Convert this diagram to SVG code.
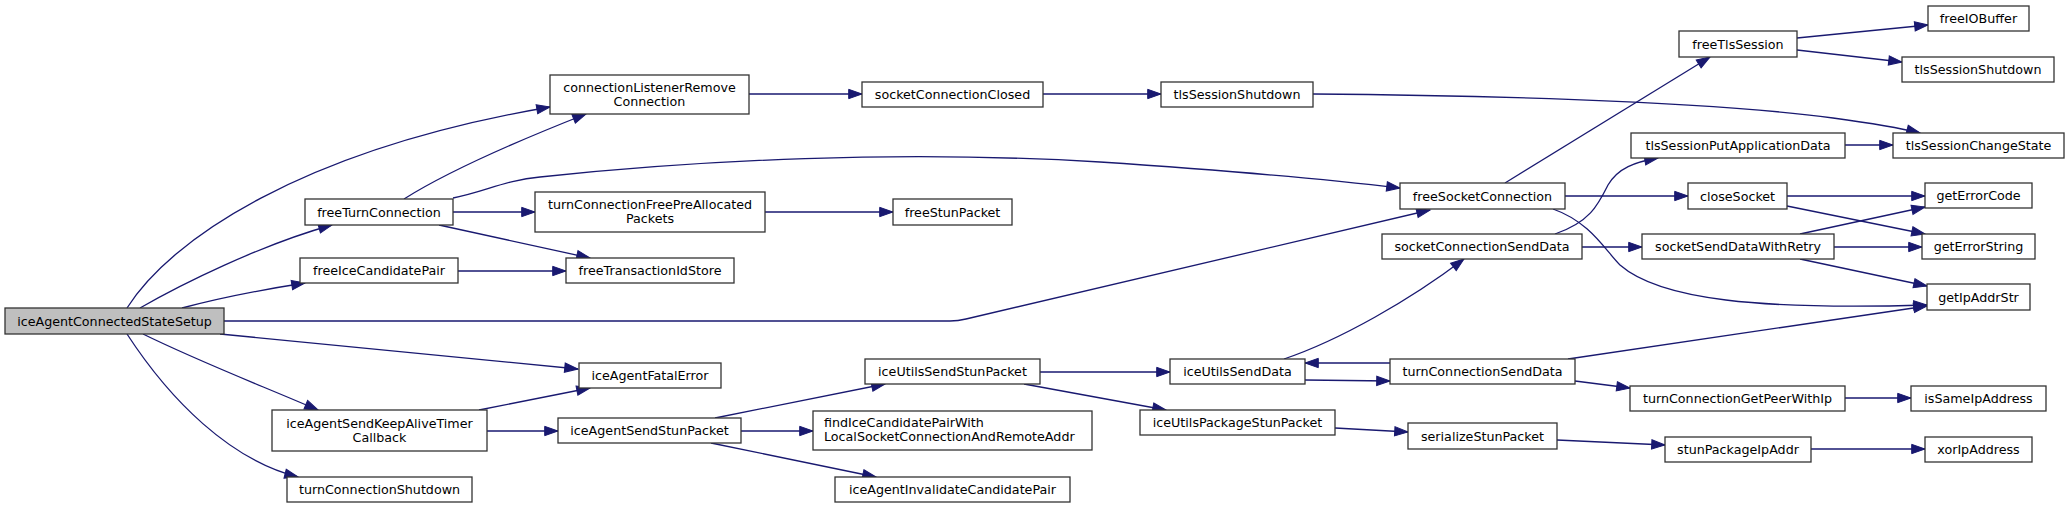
<svg xmlns="http://www.w3.org/2000/svg" width="2069" height="508" viewBox="0 0 2069 508">
<style>
.n rect{fill:#fff;stroke:#333;stroke-width:1.3}
.n.root rect{fill:#bfbfbf}
.n text{font-family:"DejaVu Sans",sans-serif;font-size:12.7px;fill:#000;text-anchor:middle}
.n text.l{text-anchor:start}
#edges path{fill:none;stroke:#191970;stroke-width:1.3;marker-end:url(#arr)}
</style>
<defs>
<marker id="arr" markerUnits="userSpaceOnUse" markerWidth="14" markerHeight="10" refX="13.3" refY="4.65" orient="auto" overflow="visible">
<path d="M0,0 L13.3,4.65 L0,9.3 z" fill="#191970" stroke="#191970" stroke-width="1"/>
</marker>
</defs>
<rect width="2069" height="508" fill="#fff"/>
<g id="edges">
<path d="M127,308 C170,240 300,150 550,107"/>
<path d="M140,308 C180,285 260,245 332,225"/>
<path d="M182,308 C220,298 260,290 305,283"/>
<path d="M224,321 L950,321 Q958,321 966,319 L1430,210"/>
<path d="M220,334 L578,369"/>
<path d="M143,334 C200,362 260,385 318,410"/>
<path d="M127,334 C170,400 230,460 298,477"/>
<path d="M404,199 C450,170 520,140 586,114"/>
<path d="M453,198 C485,192 505,180 540,177 C700,160 900,150 1100,162 C1250,172 1350,182 1400,188"/>
<path d="M453,212 L535,212"/>
<path d="M439,225 L590,258"/>
<path d="M458,271 L566,271"/>
<path d="M749,94 L862,94"/>
<path d="M1043,94 L1161,94"/>
<path d="M1313,94 C1450,95 1700,100 1833,118 C1870,123 1900,128 1920,133"/>
<path d="M765,212 L893,212"/>
<path d="M1505,183 L1710,57"/>
<path d="M1565,196 L1688,196"/>
<path d="M1553,209 C1590,222 1605,250 1620,265 C1660,300 1760,310 1927,305"/>
<path d="M1797,38 L1928,25"/>
<path d="M1797,50 L1902,62"/>
<path d="M1845,145 L1893,145"/>
<path d="M1555,234 C1590,222 1598,205 1608,185 C1618,168 1635,162 1658,158"/>
<path d="M1582,247 L1642,247"/>
<path d="M1787,196 L1925,196"/>
<path d="M1787,206 L1925,234"/>
<path d="M1800,234 L1925,207"/>
<path d="M1834,247 L1922,247"/>
<path d="M1800,259 L1927,286"/>
<path d="M479,410 L590,388"/>
<path d="M487,431 L558,431"/>
<path d="M715,418 L885,384"/>
<path d="M741,431 L813,431"/>
<path d="M711,443 L876,477"/>
<path d="M1040,372 L1170,372"/>
<path d="M1024,384 L1166,410"/>
<path d="M1284,359 C1340,340 1410,300 1464,259"/>
<path d="M1305,380 L1390,381"/>
<path d="M1390,363 L1305,363"/>
<path d="M1568,359 L1927,306"/>
<path d="M1575,381 L1630,388"/>
<path d="M1845,398 L1911,398"/>
<path d="M1335,428 L1408,432"/>
<path d="M1557,440 L1665,445"/>
<path d="M1811,449 L1925,449"/>
</g>
<g id="n1" class="n root"><rect x="5" y="308" width="219" height="26"/><text x="114.5" y="325.5">iceAgentConnectedStateSetup</text></g>
<g id="n2" class="n"><rect x="550" y="75" width="199" height="39"/><text x="649.5" y="91.5">connectionListenerRemove</text><text x="649.5" y="105.5">Connection</text></g>
<g id="n3" class="n"><rect x="305" y="199" width="148" height="26"/><text x="379" y="216.5">freeTurnConnection</text></g>
<g id="n4" class="n"><rect x="300" y="258" width="158" height="25"/><text x="379" y="275">freeIceCandidatePair</text></g>
<g id="n5" class="n"><rect x="272" y="410" width="215" height="41"/><text x="379.5" y="427.5">iceAgentSendKeepAliveTimer</text><text x="379.5" y="441.5">Callback</text></g>
<g id="n6" class="n"><rect x="287" y="477" width="185" height="25"/><text x="379.5" y="494">turnConnectionShutdown</text></g>
<g id="n7" class="n"><rect x="862" y="82" width="181" height="25"/><text x="952.5" y="99">socketConnectionClosed</text></g>
<g id="n8" class="n"><rect x="535" y="192" width="230" height="40"/><text x="650" y="208.5">turnConnectionFreePreAllocated</text><text x="650" y="222.5">Packets</text></g>
<g id="n9" class="n"><rect x="893" y="199" width="119" height="26"/><text x="952.5" y="216.5">freeStunPacket</text></g>
<g id="n10" class="n"><rect x="566" y="258" width="168" height="25"/><text x="650" y="275">freeTransactionIdStore</text></g>
<g id="n11" class="n"><rect x="579" y="363" width="142" height="25"/><text x="650" y="380">iceAgentFatalError</text></g>
<g id="n12" class="n"><rect x="558" y="418" width="183" height="25"/><text x="649.5" y="435">iceAgentSendStunPacket</text></g>
<g id="n13" class="n"><rect x="865" y="359" width="175" height="25"/><text x="952.5" y="376">iceUtilsSendStunPacket</text></g>
<g id="n14" class="n"><rect x="813" y="411" width="279" height="39"/><text class="l" x="824" y="427">findIceCandidatePairWith</text><text class="l" x="824" y="441">LocalSocketConnectionAndRemoteAddr</text></g>
<g id="n15" class="n"><rect x="835" y="477" width="235" height="25"/><text x="952.5" y="494">iceAgentInvalidateCandidatePair</text></g>
<g id="n16" class="n"><rect x="1161" y="82" width="152" height="25"/><text x="1237" y="99">tlsSessionShutdown</text></g>
<g id="n17" class="n"><rect x="1400" y="183" width="165" height="26"/><text x="1482.5" y="200.5">freeSocketConnection</text></g>
<g id="n18" class="n"><rect x="1382" y="234" width="200" height="25"/><text x="1482" y="251">socketConnectionSendData</text></g>
<g id="n19" class="n"><rect x="1170" y="359" width="135" height="25"/><text x="1237.5" y="376">iceUtilsSendData</text></g>
<g id="n20" class="n"><rect x="1390" y="359" width="185" height="25"/><text x="1482.5" y="376">turnConnectionSendData</text></g>
<g id="n21" class="n"><rect x="1140" y="410" width="195" height="25"/><text x="1237.5" y="427">iceUtilsPackageStunPacket</text></g>
<g id="n22" class="n"><rect x="1408" y="423" width="149" height="26"/><text x="1482.5" y="440.5">serializeStunPacket</text></g>
<g id="n23" class="n"><rect x="1928" y="6" width="101" height="25"/><text x="1978.5" y="23">freeIOBuffer</text></g>
<g id="n24" class="n"><rect x="1679" y="31" width="118" height="26"/><text x="1738" y="48.5">freeTlsSession</text></g>
<g id="n25" class="n"><rect x="1902" y="57" width="152" height="25"/><text x="1978" y="74">tlsSessionShutdown</text></g>
<g id="n26" class="n"><rect x="1631" y="133" width="214" height="25"/><text x="1738" y="150">tlsSessionPutApplicationData</text></g>
<g id="n27" class="n"><rect x="1893" y="133" width="171" height="25"/><text x="1978.5" y="150">tlsSessionChangeState</text></g>
<g id="n28" class="n"><rect x="1688" y="183" width="99" height="26"/><text x="1737.5" y="200.5">closeSocket</text></g>
<g id="n29" class="n"><rect x="1925" y="183" width="107" height="25"/><text x="1978.5" y="200">getErrorCode</text></g>
<g id="n30" class="n"><rect x="1642" y="234" width="192" height="25"/><text x="1738" y="251">socketSendDataWithRetry</text></g>
<g id="n31" class="n"><rect x="1922" y="234" width="113" height="25"/><text x="1978.5" y="251">getErrorString</text></g>
<g id="n32" class="n"><rect x="1927" y="284" width="103" height="26"/><text x="1978.5" y="301.5">getIpAddrStr</text></g>
<g id="n33" class="n"><rect x="1630" y="386" width="215" height="25"/><text x="1737.5" y="403">turnConnectionGetPeerWithIp</text></g>
<g id="n34" class="n"><rect x="1911" y="386" width="135" height="25"/><text x="1978.5" y="403">isSameIpAddress</text></g>
<g id="n35" class="n"><rect x="1665" y="437" width="146" height="25"/><text x="1738" y="454">stunPackageIpAddr</text></g>
<g id="n36" class="n"><rect x="1925" y="437" width="107" height="25"/><text x="1978.5" y="454">xorIpAddress</text></g>
</svg>
